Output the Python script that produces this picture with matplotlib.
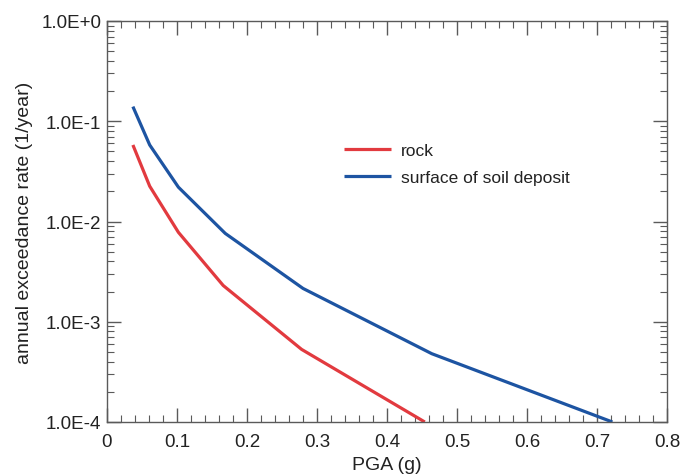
import matplotlib
matplotlib.use("Agg")
import matplotlib.pyplot as plt
from matplotlib.ticker import MultipleLocator, LogLocator, NullFormatter

plt.rcParams['font.family'] = ['Liberation Sans', 'DejaVu Sans']

rock_pga = [0.037, 0.061, 0.102, 0.166, 0.278, 0.454]
rock_rate = [5.8e-2, 2.25e-2, 7.8e-3, 2.3e-3, 5.3e-4, 1.0e-4]
soil_pga = [0.037, 0.061, 0.102, 0.169, 0.280, 0.464, 0.722]
soil_rate = [1.4e-1, 5.8e-2, 2.2e-2, 7.6e-3, 2.15e-3, 4.8e-4, 1.0e-4]
y_ticks = [1e-4, 1e-3, 1e-2, 1e-1, 1e0]
y_labels = ["1.0E-4", "1.0E-3", "1.0E-2", "1.0E-1", "1.0E+0"]
x_ticks = [0, 0.1, 0.2, 0.3, 0.4, 0.5, 0.6, 0.7, 0.8]
x_labels = ["0", "0.1", "0.2", "0.3", "0.4", "0.5", "0.6", "0.7", "0.8"]

fig = plt.figure(figsize=(6.87, 4.77), dpi=100)
ax = fig.add_axes([107/687, 1-423/477, 560/687, 401/477])

ax.plot(rock_pga, rock_rate, color='#e23a3f', lw=2.3, label='rock', solid_capstyle='butt')
ax.plot(soil_pga, soil_rate, color='#1d54a2', lw=2.3, label='surface of soil deposit', solid_capstyle='butt')

ax.set_yscale('log')
ax.set_xlim(0, 0.8)
ax.set_ylim(1e-4, 1e0)
ax.set_xticks(x_ticks)
ax.set_xticklabels(x_labels)
ax.set_yticks(y_ticks)
ax.set_yticklabels(y_labels)
ax.xaxis.set_minor_locator(MultipleLocator(0.02))
ax.yaxis.set_minor_locator(LogLocator(base=10, subs=range(2, 10)))
ax.yaxis.set_minor_formatter(NullFormatter())

for s in ax.spines.values():
    s.set_color('#5a5a5a')
    s.set_linewidth(1.0)
ax.tick_params(which='both', direction='in', top=True, right=True, color='#5a5a5a', labelsize=13.5, labelcolor='#222222')
ax.tick_params(which='major', length=10, width=1.0)
ax.tick_params(which='minor', length=5, width=0.8)
ax.tick_params(axis='x', pad=8)
ax.tick_params(axis='y', pad=4)

ax.set_xlabel('PGA (g)', fontsize=14, color='#222222', labelpad=4)
ax.set_ylabel('annual exceedance rate (1/year)', fontsize=14, color='#222222', labelpad=6)

ax.legend(loc='upper left', bbox_to_anchor=(0.395, 0.735), frameon=False, fontsize=12.5,
          handlelength=2.7, handletextpad=0.57, labelspacing=0.7, labelcolor='#222222')

fig.savefig('out.png', dpi=100)
